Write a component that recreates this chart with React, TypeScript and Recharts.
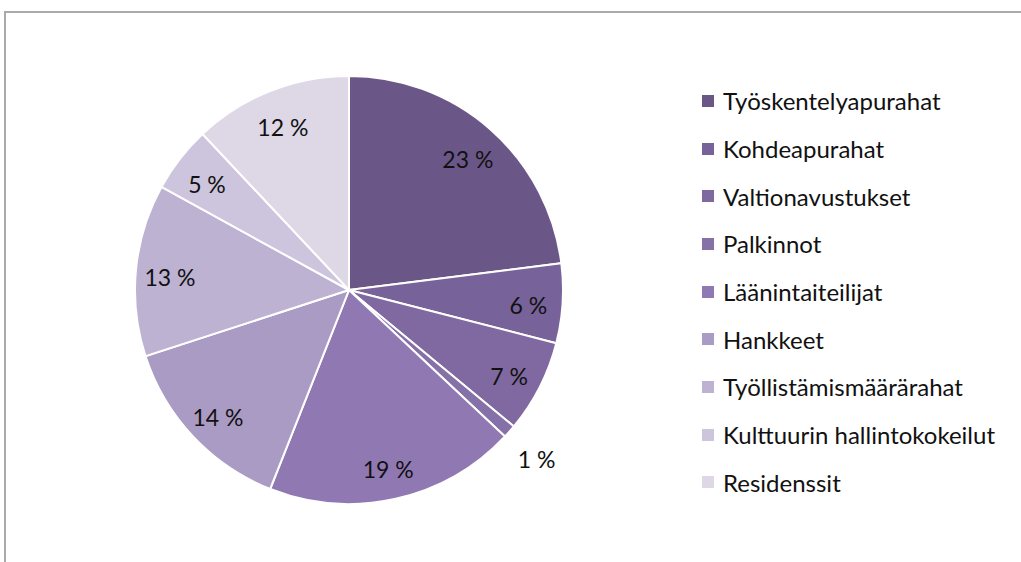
import { PieChart, Pie, Cell, Legend } from 'recharts';

const categories = [
  'Työskentelyapurahat',
  'Kohdeapurahat',
  'Valtionavustukset',
  'Palkinnot',
  'Läänintaiteilijat',
  'Hankkeet',
  'Työllistämismäärärahat',
  'Kulttuurin hallintokokeilut',
  'Residenssit',
];
const shares = [23, 6, 7, 1, 19, 14, 13, 5, 12];
const colors = ['#6b5787', '#78629a', '#8069a0', '#8670a8', '#9079b3', '#aa9bc4', '#bdb2d2', '#cdc5dd', '#ddd7e6'];

const data = categories.map((name, i) => ({ name, value: shares[i] }));

const RAD = Math.PI / 180;

// labels sit inside the slice, tiny slices get pushed outside
const renderLabel = (props: any) => {
  const { cx, cy, midAngle, outerRadius, value } = props;
  const r = value < 3 ? outerRadius + 36 : outerRadius * 0.84;
  const x = cx + r * Math.cos(-midAngle * RAD);
  const y = cy + r * Math.sin(-midAngle * RAD) + 4;
  return (
    <text x={x} y={y} textAnchor="middle" dominantBaseline="central"
      style={{ fontFamily: 'Lato, sans-serif', fontSize: 23, fill: '#111' }}>
      {`${value} %`}
    </text>
  );
};

const LegendContent = () => (
  <div style={{ fontFamily: 'Lato, sans-serif', fontSize: 24, color: '#111' }}>
    {categories.map((c, i) => (
      <div key={c} style={{ display: 'flex', alignItems: 'center', height: 47.7 }}>
        <span style={{ width: 12, height: 12, background: colors[i], marginRight: 9, display: 'inline-block' }} />
        <span>{c}</span>
      </div>
    ))}
  </div>
);

export default function App() {
  return (
    <div style={{ position: 'absolute', left: 0, top: 0, width: 1021, height: 562, overflow: 'hidden', background: '#fff' }}>
      <div style={{ position: 'absolute', left: 4, top: 11, width: 1100, height: 700, borderLeft: '2px solid #aaa', borderTop: '2px solid #aaa' }} />
      <div style={{ position: 'absolute', left: 0, top: 0 }}>
        <PieChart width={1021} height={562} margin={{ top: 0, right: 0, bottom: 0, left: 0 }}>
          <Pie
            data={data}
            dataKey="value"
            nameKey="name"
            cx={349}
            cy={290}
            outerRadius={214}
            startAngle={90}
            endAngle={-270}
            stroke="#fff"
            strokeWidth={2}
            label={renderLabel}
            labelLine={false}
            isAnimationActive={false}
          >
            {data.map((d, i) => (
              <Cell key={d.name} fill={colors[i]} />
            ))}
          </Pie>
          <Legend
            layout="vertical"
            content={<LegendContent />}
            wrapperStyle={{ position: 'absolute', left: 702, top: 77, width: 319 }}
          />
        </PieChart>
      </div>
    </div>
  );
}
